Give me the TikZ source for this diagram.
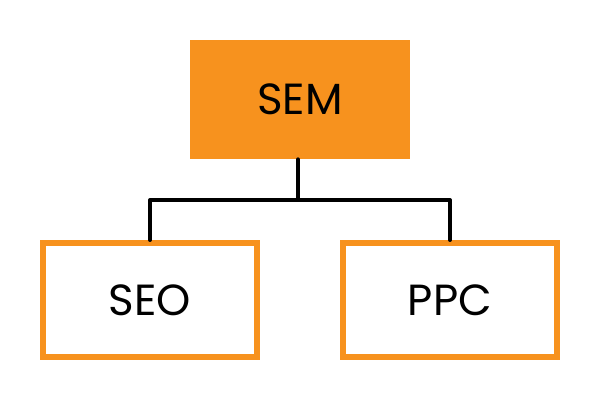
\documentclass[tikz,border=0pt]{standalone}
\usepackage{fontspec}
\setmainfont{Poppins}
\usepackage{tikz}
\definecolor{semorange}{RGB}{247,146,30}

\begin{document}
\begin{tikzpicture}[
    topbox/.style={fill=semorange, minimum width=5.5cm, minimum height=2.975cm, font=\fontsize{31}{33}\selectfont},
    subbox/.style={draw=semorange, line width=0.15cm, fill=white, minimum width=5.35cm, minimum height=2.85cm, font=\fontsize{31}{33}\selectfont},
    link/.style={line width=0.1cm, line join=round, line cap=round}
]
    \useasboundingbox (0,0) rectangle (15,10);

    % Main box
    \node[topbox] (sem) at (7.5,7.51) {SEM};

    % Sub boxes
    \node[subbox] (seo) at (3.75,2.5) {SEO};
    \node[subbox] (ppc) at (11.25,2.5) {PPC};

    % Connectors
    \coordinate (bus) at (7.45,5);
    \draw[link] (sem.south -| bus) -- (bus);
    \draw[link] (seo.north) |- (bus) -| (ppc.north);

\end{tikzpicture}
\end{document}
